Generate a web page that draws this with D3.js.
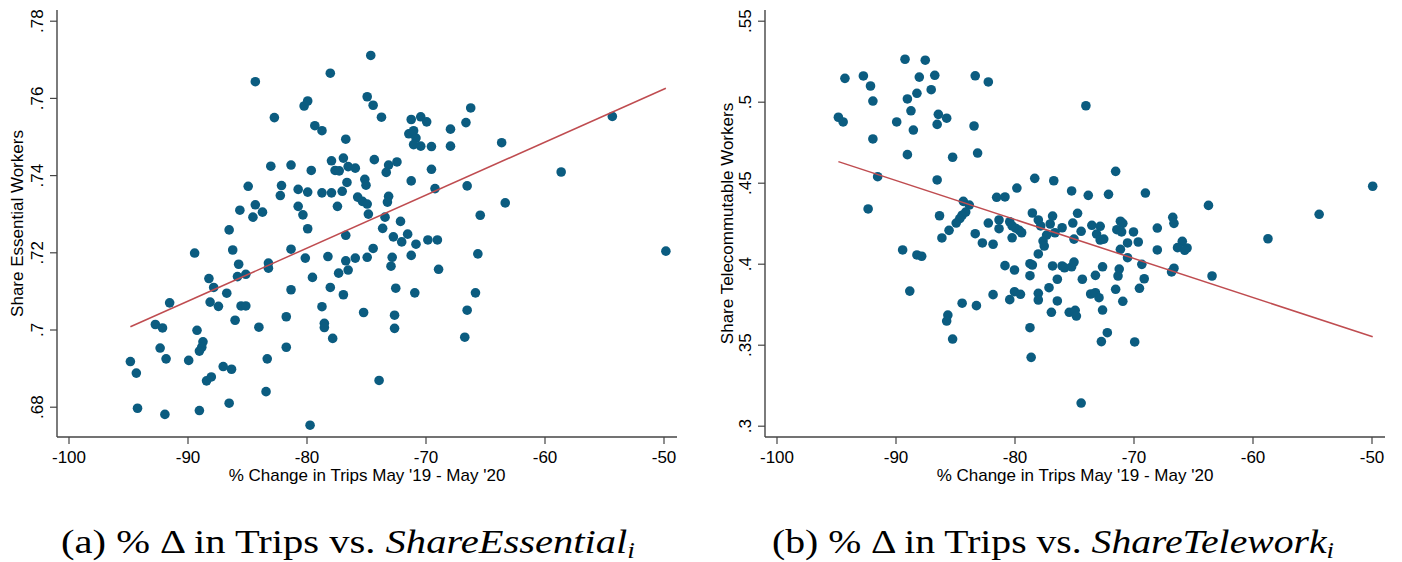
<!DOCTYPE html>
<html>
<head>
<meta charset="utf-8">
<script src="https://cdn.jsdelivr.net/npm/d3@7"></script>
<style>
  body { margin: 0; background: #fff; }
  svg { display: block; }
  .tick text { font-family: "Liberation Sans", Arial, sans-serif; font-size: 17px; fill: #000; }
  .ttl { font-family: "Liberation Sans", Arial, sans-serif; font-size: 17px; fill: #000; }
  .cap { font-family: "Liberation Serif", "Times New Roman", serif; font-size: 34px; fill: #000; }
</style>
</head>
<body>
<svg id="chart" width="1402" height="562"></svg>
<script>
// % change in trips (x) and share of essential workers (y), panel (a)
let tripsA = [-84.3, -78.0, -80.2, -79.9, -82.7, -79.3, -78.7, -76.7, -83.0, -81.3,
  -79.6, -77.9, -76.9, -77.6, -77.25, -76.5, -84.9, -82.1, -82.2, -80.7,
  -79.9, -78.7, -77.9, -77.0, -76.6, -77.4, -84.3, -85.6, -84.5, -83.7,
  -80.7, -80.3, -86.5, -79.9, -89.4, -86.2, -81.3, -80.1, -78.2, -76.7,
  -76.7, -85.7, -83.2, -83.2, -88.2, -85.8, -85.1, -79.5, -77.3, -76.5,
  -87.8, -86.7, -81.3, -78.0, -76.9, -91.5, -88.1, -87.4, -85.5, -85.1,
  -78.7, -92.7, -92.1, -89.2, -86.0, -84.0, -81.7, -78.5, -78.5, -77.8,
  -92.3, -88.7, -88.8, -89.0, -81.7, -94.8, -94.3, -91.8, -89.9, -83.3,
  -87.0, -86.3, -88.4, -88.0, -83.4, -86.5, -89.0, -91.9, -94.2, -79.7,
  -74.6, -74.9, -74.4, -73.7, -66.2, -71.2, -70.4, -69.9, -66.6, -67.9,
  -71.4, -71.0, -70.8, -71.0, -70.4, -69.5, -67.9, -63.6, -54.3, -75.9,
  -74.3, -73.1, -72.4, -73.3, -69.5, -71.2, -58.6, -75.1, -75.0, -66.5,
  -69.2, -75.7, -75.3, -74.9, -73.1, -73.2, -63.3, -74.8, -73.4, -72.1,
  -65.4, -73.6, -72.7, -71.5, -72.0, -70.8, -69.8, -69.0, -74.4, -49.8,
  -75.9, -74.9, -72.8, -71.2, -65.6, -72.9, -68.9, -72.5, -70.9, -65.8,
  -75.2, -72.6, -66.5, -72.6, -66.7, -73.9];
let essentialShare = [.7642, .7664, .7579, .7592, .7549, .7528, .7515, .7493, .7423, .7426,
  .7412, .7437, .7444, .7412, .7411, .7422, .7371, .7373, .7347, .7363,
  .7356, .7354, .7354, .7358, .7381, .7319, .7323, .7309, .7291, .7304,
  .7319, .7297, .7258, .7261, .7198, .7206, .7208, .7185, .7189, .7244,
  .7178, .7169, .7172, .7159, .7132, .7137, .7143, .7135, .7146, .7154,
  .7109, .7094, .7103, .7109, .7090, .7069, .7071, .7060, .7061, .7061,
  .7059, .7013, .7004, .6998, .7024, .7006, .7033, .7016, .7005, .6977,
  .6952, .6968, .6954, .6944, .6954, .6917, .6887, .6924, .6920, .6924,
  .6904, .6897, .6867, .6877, .6839, .6809, .6790, .6780, .6796, .6752,
  .7710, .7603, .7581, .7550, .7574, .7544, .7551, .7538, .7536, .7519,
  .7507, .7515, .7496, .7479, .7475, .7474, .7475, .7484, .7552, .7418,
  .7440, .7426, .7434, .7407, .7415, .7385, .7408, .7389, .7374, .7372,
  .7365, .7343, .7332, .7325, .7345, .7330, .7328, .7299, .7291, .7280,
  .7296, .7262, .7240, .7247, .7227, .7221, .7232, .7232, .7210, .7203,
  .7185, .7187, .7187, .7192, .7196, .7164, .7156, .7107, .7095, .7095,
  .7044, .7037, .7050, .7003, .6980, .6868];

// % change in trips (x) and share of telecommutable workers (y), panel (b)
let tripsB = [-94.25, -92.7, -92.1, -91.9, -94.8, -94.4, -91.9, -91.5, -92.3, -89.9,
  -89.2, -87.5, -88.0, -86.7, -83.3, -82.2, -88.2, -87.0, -89.0, -88.7,
  -88.5, -86.4, -85.7, -86.5, -83.4, -74.0, -89.0, -85.2, -83.1, -86.5,
  -78.3, -76.7, -75.2, -73.8, -79.8, -81.5, -80.8, -84.3, -83.8, -84.1,
  -84.4, -84.6, -84.9, -86.3, -85.5, -86.1, -89.4, -88.2, -87.8, -88.8,
  -83.3, -82.7, -81.8, -82.2, -81.3, -81.3, -80.4, -80.2, -79.9, -79.6,
  -79.4, -80.2, -78.5, -78.0, -77.8, -76.8, -77.0, -77.3, -77.6, -77.5,
  -76.6, -76.0, -74.7, -75.1, -74.4, -75.0, -78.0, -80.8, -80.0, -78.7,
  -78.5, -78.7, -76.8, -76.0, -75.8, -75.2, -75.0, -76.4, -74.3, -77.1,
  -81.8, -80.0, -79.5, -80.4, -78.0, -78.0, -76.4, -84.4, -83.2, -85.6,
  -85.7, -85.2, -76.9, -75.4, -74.9, -74.8, -78.7, -78.6, -74.4, -71.5,
  -72.1, -69.0, -63.7, -49.9, -54.4, -58.7, -66.7, -66.6, -68.0, -73.5,
  -72.8, -73.1, -72.8, -72.5, -71.1, -70.9, -71.4, -71.0, -70.0, -70.5,
  -69.6, -71.1, -70.5, -68.0, -65.9, -66.3, -65.5, -65.7, -69.3, -66.6,
  -66.8, -63.4, -72.6, -71.2, -71.3, -73.2, -69.1, -71.5, -69.5, -73.6,
  -73.2, -72.9, -70.9, -72.6, -72.2, -72.7, -69.9];
let teleworkShare = [.5144, .5159, .5097, .5004, .4904, .4875, .4770, .4537, .4338, .4875,
  .5262, .5256, .5152, .5163, .5160, .5122, .5052, .5074, .5017, .4944,
  .4825, .4922, .4898, .4860, .4850, .4975, .4673, .4657, .4683, .4517,
  .4527, .4512, .4449, .4422, .4467, .4410, .4412, .4385, .4362, .4319,
  .4299, .4278, .4251, .4296, .4206, .4159, .4085, .4054, .4046, .3831,
  .4185, .4128, .4120, .4251, .4270, .4216, .4259, .4233, .4219, .4206,
  .4191, .4160, .4313, .4270, .4233, .4294, .4245, .4177, .4140, .4109,
  .4191, .4222, .4311, .4251, .4200, .4152, .4060, .3988, .3961, .4000,
  .3992, .3926, .3986, .3986, .3975, .3981, .4010, .3904, .3904, .3852,
  .3809, .3827, .3811, .3778, .3817, .3776, .3770, .3756, .3741, .3683,
  .3646, .3535, .3700, .3700, .3712, .3677, .3605, .3422, .3140, .4570,
  .4428, .4436, .4360, .4478, .4305, .4154, .4286, .4249, .4220, .4237,
  .4231, .4183, .4146, .4152, .4262, .4249, .4210, .4196, .4196, .4128,
  .4134, .4089, .4037, .4085, .4138, .4099, .4097, .4083, .3996, .3972,
  .3949, .3924, .3981, .3967, .3924, .3928, .3907, .3842, .3848, .3813,
  .3821, .3790, .3768, .3714, .3574, .3519, .3517];

// fitted lines (endpoints)
let fitA = [[-94.8, 0.7007], [-49.8, 0.7625]];
let fitB = [[-94.8, 0.4630], [-49.9, 0.3549]];

let xTicks = [-100, -90, -80, -70, -60, -50];
let yTicksA = [0.68, 0.70, 0.72, 0.74, 0.76, 0.78];
let yTicksB = [0.30, 0.35, 0.40, 0.45, 0.50, 0.55];

let dotColor = "#0b5c80";
let lineColor = "#bf4c50";
let axisColor = "#444";

let svg = d3.select("#chart");

let drawPanel = function(p) {
  let g = svg.append("g").attr("transform", "translate(" + p.left + ",0)");

  // plot box: spines go a bit beyond the tick range, like Stata does
  let box = { x0: 0, x1: 620, y0: 10, y1: 437 };

  let x = d3.scaleLinear().domain([-100, -50]).range([11.5, 606.5]);
  let y = d3.scaleLinear().domain(p.yDomain).range([p.yBottom, 20.7]);

  let xAxis = d3.axisBottom(x)
    .tickValues(xTicks)
    .tickSize(7)
    .tickFormat(d => String(d));

  let yAxis = d3.axisLeft(y)
    .tickValues(p.yTicks)
    .tickSize(7)
    .tickFormat(d => (+d.toFixed(2)).toString().replace("0.", "."));

  let xg = g.append("g").attr("transform", "translate(0," + box.y1 + ")").call(xAxis);
  xg.select(".domain").remove();
  xg.selectAll(".tick line").attr("stroke", axisColor).attr("stroke-width", 1.2);
  xg.selectAll(".tick text").attr("y", 26).attr("dy", null);

  let yg = g.append("g").attr("transform", "translate(" + box.x0 + ",0)").call(yAxis);
  yg.select(".domain").remove();
  yg.selectAll(".tick line").attr("stroke", axisColor).attr("stroke-width", 1.2);
  yg.selectAll(".tick text")
    .attr("x", 0).attr("y", -14).attr("dy", null)
    .attr("text-anchor", "middle")
    .attr("transform", "rotate(-90)");

  // spines
  g.append("line").attr("x1", box.x0).attr("x2", box.x0).attr("y1", box.y0).attr("y2", box.y1)
    .attr("stroke", axisColor).attr("stroke-width", 1.4);
  g.append("line").attr("x1", box.x0).attr("x2", box.x1).attr("y1", box.y1).attr("y2", box.y1)
    .attr("stroke", axisColor).attr("stroke-width", 1.4);

  // axis titles
  g.append("text").attr("class", "ttl")
    .attr("x", (box.x0 + box.x1) / 2).attr("y", 481)
    .attr("text-anchor", "middle")
    .text("% Change in Trips May '19 - May '20");
  g.append("text").attr("class", "ttl")
    .attr("transform", "translate(" + p.yTitleX + "," + ((box.y0 + box.y1) / 2) + ") rotate(-90)")
    .attr("text-anchor", "middle")
    .text(p.yTitle);

  let pts = p.xs.map((v, i) => [v, p.ys[i]]);
  g.append("g").selectAll("circle")
    .data(pts)
    .enter().append("circle")
    .attr("cx", d => x(d[0]))
    .attr("cy", d => y(d[1]))
    .attr("r", 4.8)
    .attr("fill", dotColor);

  g.append("path")
    .datum(p.fit)
    .attr("fill", "none")
    .attr("stroke", lineColor)
    .attr("stroke-width", 1.5)
    .attr("d", d3.line().x(d => x(d[0])).y(d => y(d[1])));

  // caption under the panel (LaTeX subcaption)
  let cap = svg.append("text").attr("class", "cap")
    .attr("x", p.capX).attr("y", 553)
    .attr("textLength", p.capW)
    .attr("lengthAdjust", "spacingAndGlyphs");
  cap.append("tspan").text(p.capLead);
  cap.append("tspan").attr("font-style", "italic").text(p.capVar);
  cap.append("tspan").attr("font-style", "italic").attr("font-size", "23px")
    .attr("dy", 5).text("i");
};

drawPanel({
  left: 57, xs: tripsA, ys: essentialShare,
  yDomain: [0.68, 0.78], yBottom: 406.7, yTicks: yTicksA,
  yTitle: "Share Essential Workers", yTitleX: -34,
  fit: fitA, capX: 61, capW: 574,
  capLead: "(a) % \u0394 in Trips vs. ", capVar: "ShareEssential"
});

drawPanel({
  left: 765, xs: tripsB, ys: teleworkShare,
  yDomain: [0.30, 0.55], yBottom: 425.7, yTicks: yTicksB,
  yTitle: "Share Telecommutable Workers", yTitleX: -32,
  fit: fitB, capX: 772, capW: 562,
  capLead: "(b) % \u0394 in Trips vs. ", capVar: "ShareTelework"
});
</script>
</body>
</html>
